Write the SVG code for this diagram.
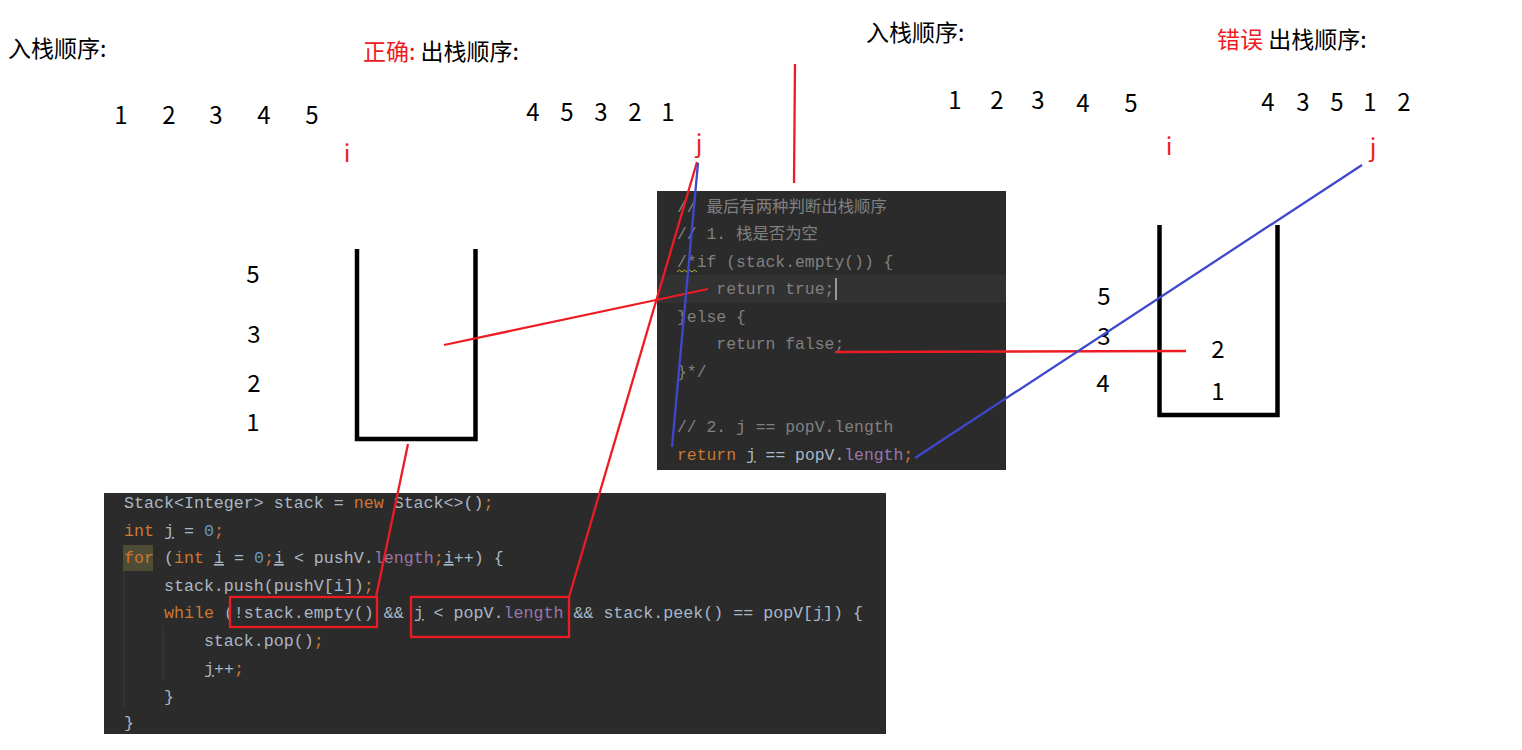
<svg xmlns="http://www.w3.org/2000/svg" width="1522" height="750" viewBox="0 0 1522 750">
<style>
.code{font-family:"Liberation Mono","Noto Sans CJK SC",monospace;}
.c1{font-size:16.4px;}
.c2{font-size:16.65px;}
.d{fill:#a9b7c6}.k{fill:#cc7832}.n{fill:#6897bb}.f{fill:#9876aa}.cm{fill:#808080}
.u{text-decoration:underline}
.lbl{font-family:"Noto Sans CJK SC","Noto Sans",sans-serif;font-size:23px;fill:#000}
.num{font-family:"Noto Sans CJK SC","Noto Sans",sans-serif;font-size:24px;fill:#000;text-anchor:middle}
.red{fill:#ed1c24}
.stk{fill:none;stroke:#000;stroke-width:4.5}
.rl{fill:none;stroke:#ed1c24;stroke-width:2.3}
.bl{fill:none;stroke:#3f48cc;stroke-width:2.3}
</style>
<rect width="1522" height="750" fill="#fff"/>

<g id="labels-left">
<text class="lbl" x="8" y="57">入栈顺序:</text>
<text class="lbl" x="363" y="60"><tspan class="red">正确:</tspan> 出栈顺序:</text>
<text class="num" y="124"><tspan x="121">1</tspan><tspan x="169">2</tspan><tspan x="216">3</tspan><tspan x="264">4</tspan><tspan x="312">5</tspan></text>
<text class="num" y="121"><tspan x="533">4</tspan><tspan x="567">5</tspan><tspan x="601">3</tspan><tspan x="635">2</tspan><tspan x="668">1</tspan></text>
<text class="num red" x="347" y="162">i</text>
<text class="num red" x="699" y="152">j</text>
</g>

<g id="labels-right">
<text class="lbl" x="866" y="41">入栈顺序:</text>
<text class="lbl" x="1217" y="48"><tspan class="red">错误</tspan> 出栈顺序:</text>
<text class="num" y="109"><tspan x="955">1</tspan><tspan x="997">2</tspan><tspan x="1038">3</tspan></text>
<text class="num" y="112"><tspan x="1083">4</tspan><tspan x="1131">5</tspan></text>
<text class="num" y="111"><tspan x="1268">4</tspan><tspan x="1303">3</tspan><tspan x="1337">5</tspan><tspan x="1370">1</tspan><tspan x="1404">2</tspan></text>
<text class="num red" x="1169" y="155">i</text>
<text class="num red" x="1373" y="156">j</text>
</g>

<g id="stack-left">
<path class="stk" d="M357,249 V439 H475.5 V249"/>
<text class="num" x="253" y="283">5</text>
<text class="num" x="254" y="343">3</text>
<text class="num" x="254" y="392">2</text>
<text class="num" x="253" y="431">1</text>
</g>

<g id="stack-right">
<path class="stk" d="M1159.5,225 V415 H1277.5 V225"/>
<text class="num" x="1104" y="305">5</text>
<text class="num" x="1104" y="345">3</text>
<text class="num" x="1103" y="392">4</text>
<text class="num" x="1218" y="358">2</text>
<text class="num" x="1218" y="400">1</text>
</g>

<g id="code-panel-1">
<rect x="657" y="191" width="349" height="279" fill="#2b2b2b"/>
<rect x="657" y="275" width="349" height="28" fill="#323232"/>
<text class="code c1 cm" x="677" y="212" xml:space="preserve">// 最后有两种判断出栈顺序</text>
<text class="code c1 cm" x="677" y="239" xml:space="preserve">// 1. 栈是否为空</text>
<text class="code c1 cm" x="677" y="267" xml:space="preserve">/*if (stack.empty()) {</text>
<polyline points="677,272 679.5,270 682,272 684.5,270 687,272 689.5,270 692,272 694.5,270 697,272" fill="none" stroke="#bbb529" stroke-width="1"/>
<text class="code c1 cm" x="677" y="294" xml:space="preserve">    return true;</text>
<line x1="836" y1="278" x2="836" y2="300" stroke="#bbbbbb" stroke-width="1.5"/>
<text class="code c1 cm" x="677" y="322" xml:space="preserve">}else {</text>
<text class="code c1 cm" x="677" y="349" xml:space="preserve">    return false;</text>
<text class="code c1 cm" x="677" y="377" xml:space="preserve">}*/</text>
<text class="code c1 cm" x="677" y="432" xml:space="preserve">// 2. j == popV.length</text>
<text class="code c1 d" x="677" y="460" xml:space="preserve"><tspan class="k">return</tspan> <tspan class="u">j</tspan> == popV.<tspan class="f">length</tspan><tspan class="k">;</tspan></text>
</g>

<g id="code-panel-2">
<rect x="104" y="493" width="782" height="241" fill="#2b2b2b"/>
<rect x="123" y="545" width="30" height="26" fill="#4e4c34"/>
<line x1="124" y1="571" x2="124" y2="707" stroke="#3d3d3d" stroke-width="1"/>
<line x1="163" y1="625" x2="163" y2="681" stroke="#3d3d3d" stroke-width="1"/>
<text class="code c2 d" x="124" y="508" xml:space="preserve">Stack&lt;Integer&gt; stack = <tspan class="k">new</tspan> Stack&lt;&gt;()<tspan class="k">;</tspan></text>
<text class="code c2 d" x="124" y="536" xml:space="preserve"><tspan class="k">int</tspan> <tspan class="u">j</tspan> = <tspan class="n">0</tspan><tspan class="k">;</tspan></text>
<text class="code c2 d" x="124" y="563" xml:space="preserve"><tspan class="k">for</tspan> (<tspan class="k">int</tspan> <tspan class="u">i</tspan> = <tspan class="n">0</tspan><tspan class="k">;</tspan><tspan class="u">i</tspan> &lt; pushV.<tspan class="f">length</tspan><tspan class="k">;</tspan><tspan class="u">i</tspan>++) {</text>
<text class="code c2 d" x="124" y="591" xml:space="preserve">    stack.push(pushV[i])<tspan class="k">;</tspan></text>
<text class="code c2 d" x="124" y="618" xml:space="preserve">    <tspan class="k">while</tspan> (!stack.empty() &amp;&amp; <tspan class="u">j</tspan> &lt; popV.<tspan class="f">length</tspan> &amp;&amp; stack.peek() == popV[<tspan class="u">j</tspan>]) {</text>
<text class="code c2 d" x="124" y="646" xml:space="preserve">        stack.pop()<tspan class="k">;</tspan></text>
<text class="code c2 d" x="124" y="674" xml:space="preserve">        <tspan class="u">j</tspan>++<tspan class="k">;</tspan></text>
<text class="code c2 d" x="124" y="702" xml:space="preserve">    }</text>
<text class="code c2 d" x="124" y="728" xml:space="preserve">}</text>
</g>

<g id="connectors">
<line class="rl" x1="795" y1="64" x2="794" y2="183"/>
<line class="rl" x1="697" y1="162" x2="569" y2="597"/>
<line class="rl" x1="708" y1="289" x2="444" y2="345"/>
<line class="rl" x1="835" y1="352" x2="1186" y2="351"/>
<line class="rl" x1="408" y1="444" x2="376" y2="597"/>
<line class="bl" x1="698" y1="163" x2="672" y2="447"/>
<line class="bl" x1="915" y1="458" x2="1362" y2="165"/>
<rect class="rl" x="230" y="597" width="147" height="30" stroke-width="2.5"/>
<rect class="rl" x="411" y="597" width="158" height="40" stroke-width="2.5"/>
</g>
</svg>
